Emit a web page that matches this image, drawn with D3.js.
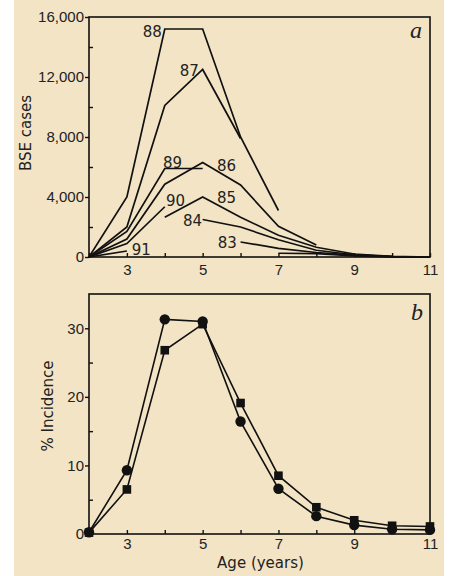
<!DOCTYPE html>
<html lang="en">
<head>
<meta charset="utf-8">
<title>BSE cases by age</title>
<script src="https://cdn.jsdelivr.net/npm/d3@7"></script>
<style>
	body { margin: 0; background: #fff; }
	svg { font-family: "DejaVu Sans", sans-serif; }
	.axis path, .axis line { stroke: #111; }
	.axis text { font-size: 15px; fill: #222; }
</style>
</head>
<body>
<svg id="chart" width="449" height="576"></svg>
<script>
	// ages (years) shared by both panels
	var ages = [2, 3, 4, 5, 6, 7, 8, 9, 10, 11];

	// panel a : BSE cases in each year, by age (null = no point)
	var cases83 = [null, null, null, null, 1000, 580, 300, 120, 30, 0];
	var cases84 = [null, null, null, 2500, 2000, 1150, 450, 150, 30, 0];
	var cases85 = [null, null, 2650, 4000, 2650, 1450, 650, 200, 50, 0];
	var cases86 = [0, 1200, 4850, 6300, 4800, 2050, 800, null, null, null];
	var cases87 = [0, 2000, 10100, 12500, 7900, null, null, null, null, null];
	var cases88 = [0, 4000, 15200, 15200, 8000, 3100, null, null, null, null];
	var cases89 = [0, 1700, 5900, 5900, null, null, null, null, null, null];
	var cases90 = [0, 900, 3350, null, null, null, null, null, null, null];
	var cases91 = [0, 400, null, null, null, null, null, null, null, null];
	var casesOld = [null, null, null, null, null, 250, 220, 80, 10, 0];

	var yearNames = ["83", "84", "85", "86", "87", "88", "89", "90", "91", ""];
	var yearSeries = [cases83, cases84, cases85, cases86, cases87, cases88, cases89, cases90, cases91, casesOld];

	// where each year label sits, in data units [age, cases, anchor]
	var yearLabelAt = [
		[5.4, 600, "start"], [4.48, 2070, "start"], [5.38, 3600, "start"],
		[5.38, 5750, "start"], [4.9, 12100, "end"], [3.92, 14700, "end"],
		[3.95, 5950, "start"], [4.03, 3400, "start"], [3.13, 130, "start"], null
	];

	var caseTicks = [0, 4000, 8000, 12000, 16000];
	var caseMinorTicks = [2000, 6000, 10000, 14000];

	// panel b : % incidence by age
	var incidenceCircles = [0.25, 9.3, 31.3, 31.0, 16.4, 6.6, 2.6, 1.3, 0.7, 0.6];
	var incidenceSquares = [0.2, 6.5, 26.8, 30.6, 19.1, 8.5, 3.9, 2.0, 1.2, 1.1];
	var incidenceTicks = [0, 10, 20, 30];
	var incidenceMinorTicks = [5, 15, 25];

	var svg = d3.select("#chart");
	svg.append("rect").attr("x", 14).attr("y", 0).attr("width", 430).attr("height", 576)
		.attr("fill", "#f2e4c5");

	var x = d3.scaleLinear().domain([2, 11]).range([89, 430]);
	var yA = d3.scaleLinear().domain([0, 16000]).range([257, 17]);
	var yB = d3.scaleLinear().domain([0, 35]).range([534, 294]);

	function frame(y, top, bottom, pad) {
		svg.append("rect")
			.attr("x", x(2)).attr("y", top)
			.attr("width", x(11) - x(2)).attr("height", bottom - top)
			.attr("fill", "none").attr("stroke", "#111").attr("stroke-width", 1.6);

		// x ticks (inward, every year) with labels on odd ages
		var gx = svg.append("g").attr("class", "axis")
			.attr("transform", "translate(0," + bottom + ")")
			.call(d3.axisBottom(x).tickValues(ages).tickSizeInner(-4).tickSizeOuter(0).tickPadding(pad)
				.tickFormat(function(d){ return d % 2 ? d : ""; }));
		gx.select(".domain").remove();
		gx.selectAll("line").attr("stroke-width", 1.4);
	}

	function yAxis(y, major, minor, fmt) {
		var g = svg.append("g").attr("class", "axis")
			.attr("transform", "translate(" + x(2) + ",0)")
			.call(d3.axisLeft(y).tickValues(major).tickSize(4).tickPadding(1).tickFormat(fmt));
		g.select(".domain").remove();
		g.selectAll("line").attr("stroke-width", 1.4);

		var m = svg.append("g").attr("class", "axis")
			.attr("transform", "translate(" + x(2) + ",0)")
			.call(d3.axisLeft(y).tickValues(minor).tickSize(-4).tickFormat(""));
		m.select(".domain").remove();
		m.selectAll("line").attr("stroke-width", 1.4);
	}

	// ---- panel a ----
	frame(yA, 17, 257, 7);
	yAxis(yA, caseTicks, caseMinorTicks, d3.format(","));

	var lineA = d3.line()
		.defined(function(d){ return d[1] != null; })
		.x(function(d){ return x(d[0]); })
		.y(function(d){ return yA(d[1]); });

	yearSeries.forEach(function(series, i) {
		svg.append("path")
			.datum(ages.map(function(a, j){ return [a, series[j]]; }))
			.attr("d", lineA)
			.attr("fill", "none").attr("stroke", "#111").attr("stroke-width", 1.7)
			.attr("stroke-linejoin", "miter");

		var at = yearLabelAt[i];
		if (at) {
			svg.append("text")
				.attr("x", x(at[0])).attr("y", yA(at[1]))
				.attr("text-anchor", at[2])
				.attr("font-size", 15).attr("fill", "#222")
				.text(yearNames[i]);
		}
	});

	svg.append("text")
		.attr("transform", "translate(31," + 133 + ") rotate(-90)")
		.attr("text-anchor", "middle").attr("font-size", 15).attr("fill", "#222")
		.text("BSE cases");

	svg.append("text")
		.attr("x", 416).attr("y", 38).attr("text-anchor", "middle")
		.attr("font-family", "Liberation Serif, serif").attr("font-style", "italic")
		.attr("font-size", 24).attr("fill", "#222")
		.text("a");

	// ---- panel b ----
	frame(yB, 294, 534, 4);
	yAxis(yB, incidenceTicks, incidenceMinorTicks, d3.format("d"));

	var lineB = d3.line()
		.x(function(d, i){ return x(ages[i]); })
		.y(function(d){ return yB(d); });

	[incidenceSquares, incidenceCircles].forEach(function(series) {
		svg.append("path").datum(series).attr("d", lineB)
			.attr("fill", "none").attr("stroke", "#111").attr("stroke-width", 1.6);
	});

	svg.append("g").selectAll("rect")
		.data(incidenceSquares)
		.enter().append("rect")
		.attr("x", function(d, i){ return x(ages[i]) - 4.3; })
		.attr("y", function(d){ return yB(d) - 4.3; })
		.attr("width", 8.6).attr("height", 8.6)
		.attr("fill", "#111");

	svg.append("g").selectAll("circle")
		.data(incidenceCircles)
		.enter().append("circle")
		.attr("cx", function(d, i){ return x(ages[i]); })
		.attr("cy", function(d){ return yB(d); })
		.attr("r", 5.2)
		.attr("fill", "#111");

	svg.append("text")
		.attr("transform", "translate(53," + 406 + ") rotate(-90)")
		.attr("text-anchor", "middle").attr("font-size", 15).attr("fill", "#222")
		.text("% Incidence");

	svg.append("text")
		.attr("x", (x(2) + x(11)) / 2 + 1).attr("y", 568).attr("text-anchor", "middle")
		.attr("font-size", 15).attr("fill", "#222")
		.text("Age (years)");

	svg.append("text")
		.attr("x", 417).attr("y", 320).attr("text-anchor", "middle")
		.attr("font-family", "Liberation Serif, serif").attr("font-style", "italic")
		.attr("font-size", 24).attr("fill", "#222")
		.text("b");
</script>
</body>
</html>
